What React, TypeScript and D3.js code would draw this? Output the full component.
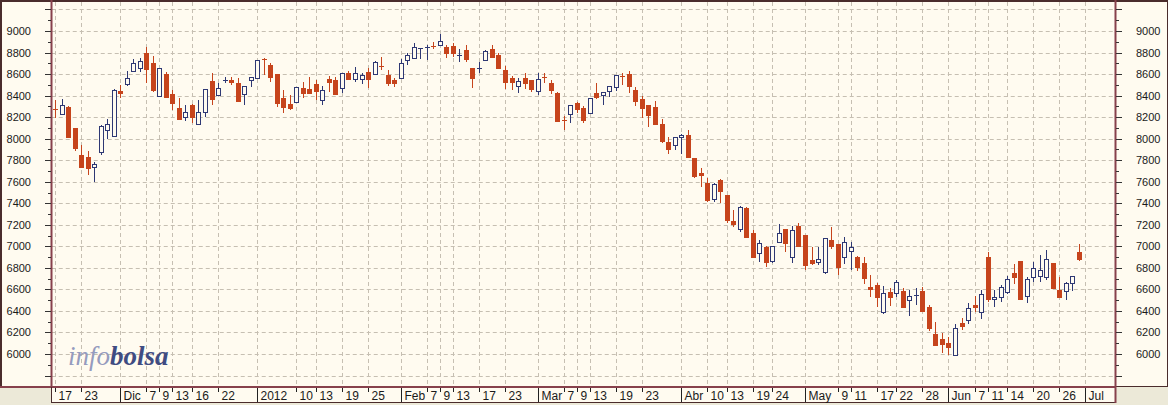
import React from 'react';
import * as d3 from 'd3';

// ---- data ----
const firstDay = '2011-11-17';
const lastDay = '2012-07-06';
const closedDays = ['2011-12-26', '2012-04-06', '2012-04-09', '2012-05-01'];

const opens = [
  8278, 8226, 8297, 8096, 7848, 7833, 7734, 7879, 8080, 8028,
  8443, 8505, 8631, 8659, 8793, 8700, 8396, 8601, 8412, 8282,
  8198, 8313, 8133, 8245, 8536, 8403, 8543, 8545, 8520, 8412,
  8545, 8561, 8737, 8684, 8601, 8375, 8319, 8340, 8468, 8461,
  8505, 8359, 8554, 8545, 8468, 8613, 8551, 8551, 8622, 8598,
  8675, 8591, 8545, 8561, 8731, 8746, 8830, 8839, 8861, 8873,
  8854, 8861, 8775, 8824, 8653, 8651, 8731, 8830, 8777, 8638,
  8561, 8489, 8561, 8545, 8443, 8576, 8520, 8427, 8172, 8226,
  8328, 8282, 8241, 8427, 8403, 8446, 8477, 8585, 8601, 8452,
  8365, 8313, 8291, 8136, 7972, 7941, 8018, 8034, 7818, 7678,
  7591, 7437, 7616, 7477, 7238, 7158, 7359, 7121, 6935, 6997,
  6867, 7040, 7158, 6904, 7189, 7105, 6873, 6858, 6764, 7059,
  7022, 6904, 6960, 6904, 6848, 6619, 6641, 6393, 6579, 6570,
  6588, 6502, 6546, 6585, 6434, 6186, 6137, 6105, 5990, 6291,
  6316, 6455, 6393, 6904, 6508, 6527, 6579, 6755, 6864, 6539,
  6712, 6727, 6718, 6842, 6594, 6588, 6663, 6950,
];
const highs = [
  8359, 8368, 8300, 8100, 7941, 7885, 7786, 8125, 8183, 8461,
  8496, 8631, 8737, 8746, 8854, 8768, 8660, 8620, 8452, 8375,
  8313, 8318, 8359, 8462, 8613, 8514, 8570, 8576, 8561, 8492,
  8573, 8735, 8746, 8706, 8603, 8452, 8406, 8484, 8529, 8576,
  8545, 8489, 8582, 8576, 8610, 8626, 8669, 8613, 8653, 8718,
  8756, 8638, 8561, 8737, 8793, 8886, 8842, 8870, 8900, 8972,
  8870, 8886, 8830, 8870, 8656, 8715, 8824, 8870, 8793, 8675,
  8582, 8561, 8613, 8548, 8613, 8613, 8545, 8430, 8210, 8316,
  8344, 8303, 8378, 8514, 8434, 8492, 8594, 8613, 8631, 8483,
  8396, 8316, 8353, 8180, 8018, 8016, 8040, 8080, 7821, 7725,
  7632, 7585, 7623, 7480, 7337, 7371, 7362, 7152, 7059, 7000,
  7006, 7207, 7161, 7189, 7214, 7108, 6997, 6997, 7077, 7177,
  7025, 7084, 7043, 6910, 6904, 6734, 6662, 6631, 6610, 6687,
  6610, 6594, 6610, 6625, 6455, 6300, 6192, 6155, 6279, 6332,
  6471, 6539, 6594, 6944, 6594, 6641, 6724, 6836, 6867, 6718,
  6858, 6920, 6966, 6845, 6712, 6666, 6727, 7022,
];
const lows = [
  8189, 8220, 8010, 7888, 7735, 7662, 7600, 7848, 7994, 8025,
  8375, 8492, 8628, 8622, 8514, 8436, 8390, 8380, 8266, 8173,
  8167, 8143, 8130, 8204, 8313, 8400, 8520, 8498, 8344, 8313,
  8483, 8558, 8591, 8529, 8297, 8235, 8266, 8336, 8375, 8420,
  8359, 8313, 8437, 8406, 8427, 8548, 8529, 8505, 8468, 8595,
  8638, 8489, 8483, 8558, 8684, 8743, 8737, 8731, 8830, 8861,
  8746, 8762, 8715, 8715, 8468, 8613, 8728, 8756, 8650, 8458,
  8452, 8427, 8458, 8437, 8406, 8520, 8415, 8164, 8080, 8148,
  8235, 8148, 8238, 8365, 8313, 8384, 8443, 8498, 8427, 8303,
  8189, 8111, 8133, 7962, 7858, 7895, 7858, 7824, 7632, 7548,
  7415, 7415, 7399, 7220, 7182, 7136, 7081, 6901, 6857, 6811,
  6848, 7037, 6950, 6842, 7000, 6780, 6830, 6827, 6743, 6972,
  6734, 6836, 6780, 6774, 6650, 6532, 6434, 6372, 6446, 6526,
  6424, 6353, 6455, 6399, 6217, 6074, 6006, 5990, 5987, 6223,
  6279, 6393, 6322, 6486, 6440, 6486, 6557, 6650, 6505, 6477,
  6672, 6672, 6687, 6601, 6524, 6502, 6588, 6864,
];
const closes = [
  8270, 8313, 8018, 7910, 7740, 7725, 7765, 8120, 8133, 8452,
  8421, 8561, 8706, 8721, 8644, 8452, 8654, 8384, 8328, 8180,
  8251, 8204, 8251, 8458, 8368, 8468, 8547, 8526, 8350, 8489,
  8570, 8731, 8731, 8576, 8328, 8291, 8282, 8480, 8427, 8427,
  8446, 8452, 8529, 8415, 8607, 8551, 8613, 8591, 8551, 8715,
  8663, 8514, 8514, 8700, 8777, 8854, 8839, 8854, 8848, 8904,
  8799, 8793, 8779, 8740, 8561, 8655, 8817, 8762, 8653, 8529,
  8529, 8539, 8514, 8461, 8551, 8561, 8452, 8167, 8167, 8313,
  8273, 8173, 8375, 8390, 8431, 8489, 8591, 8576, 8489, 8353,
  8282, 8220, 8136, 7981, 7901, 8013, 8037, 7827, 7653, 7663,
  7430, 7576, 7517, 7245, 7207, 7368, 7084, 6904, 7034, 6857,
  7003, 7121, 7028, 7152, 7003, 6827, 6842, 6880, 7074, 7003,
  6811, 7043, 6997, 6811, 6703, 6607, 6532, 6564, 6526, 6666,
  6434, 6539, 6550, 6402, 6239, 6084, 6093, 6062, 6239, 6260,
  6424, 6440, 6557, 6508, 6527, 6620, 6694, 6718, 6508, 6694,
  6802, 6780, 6880, 6610, 6527, 6663, 6724, 6880,
];

const tickDates = [
  '2011-11-17', '2011-11-23', '2011-12-01', '2011-12-07', '2011-12-09', '2011-12-13', '2011-12-16', '2011-12-22',
  '2012-01-02', '2012-01-10', '2012-01-13', '2012-01-19', '2012-01-25',
  '2012-02-01', '2012-02-07', '2012-02-09', '2012-02-13', '2012-02-17', '2012-02-23',
  '2012-03-01', '2012-03-07', '2012-03-09', '2012-03-13', '2012-03-19', '2012-03-23',
  '2012-04-02', '2012-04-10', '2012-04-13', '2012-04-19', '2012-04-24',
  '2012-05-02', '2012-05-09', '2012-05-11', '2012-05-17', '2012-05-22', '2012-05-28',
  '2012-06-01', '2012-06-07', '2012-06-11', '2012-06-14', '2012-06-20', '2012-06-26',
  '2012-07-02',
];
const tickLabels = [
  '17', '23', 'Dic', '7', '9', '13', '16', '22',
  '2012', '10', '13', '19', '25',
  'Feb', '7', '9', '13', '17', '23',
  'Mar', '7', '9', '13', '19', '23',
  'Abr', '10', '13', '19', '24',
  'May', '9', '11', '17', '22', '28',
  'Jun', '7', '11', '14', '20', '26',
  'Jul',
];
const monthLabels = ['Dic', '2012', 'Feb', 'Mar', 'Abr', 'May', 'Jun', 'Jul'];

const yLabelValues = [6000, 6200, 6400, 6600, 6800, 7000, 7200, 7400, 7600, 7800, 8000, 8200, 8400, 8600, 8800, 9000];

// ---- layout ----
const W = 1168;
const H = 405;
const PL = 51.74;
const PR = 1114.8;
const PT = 2;
const PB = 386;

const BG = '#FFFBF0';
const GRAY = '#ECE9D8';
const RED = '#C6441C';
const NAVY = '#2E3874';
const AXIS = '#87414C';
const FRAME = '#4A2C2C';
const GRID = '#C6BFB2';

const fmt = d3.utcFormat('%Y-%m-%d');
const slots: string[] = d3.utcDay
  .range(new Date(firstDay + 'T00:00:00Z'), d3.utcDay.offset(new Date(lastDay + 'T00:00:00Z'), 1))
  .filter((d) => d.getUTCDay() !== 0 && d.getUTCDay() !== 6)
  .map(fmt)
  .filter((s) => !closedDays.includes(s));

export default function App() {
  const x = d3.scaleBand<string>().domain(slots).range([PL, PR]).padding(0);
  const y = d3.scaleLinear().domain([6000, 9000]).range([354, 31]);
  const cx = (d: string) => Math.round((x(d) as number) + x.bandwidth() / 2);

  const gridYs = d3.range(5800, 9201, 200);
  const minorYs = d3.range(5900, 9200, 200);

  const candles = opens.map((o, i) => ({
    date: slots[i],
    o,
    h: highs[i],
    l: lows[i],
    c: closes[i],
  }));

  const font = 'Liberation Sans, Arial, sans-serif';

  return (
    <div style={{ position: 'absolute', left: 0, top: 0, width: W, height: H }}>
      <svg width={W} height={H} viewBox={`0 0 ${W} ${H}`} style={{ display: 'block' }}>
        <rect x={0} y={0} width={W} height={H} fill={GRAY} />
        {/* main panel */}
        <rect x={0} y={0} width={W} height={387} fill={BG} />
        <rect x={0.5} y={0.5} width={W - 1} height={386} fill="none" stroke={FRAME} strokeWidth={1} />
        <line x1={0} x2={W} y1={1.5} y2={1.5} stroke={FRAME} strokeWidth={1} />
        <line x1={1.5} x2={1.5} y1={0} y2={387} stroke={FRAME} strokeWidth={1} />

        {/* grid */}
        <g>
          {gridYs.map((v) => (
            <line
              key={'gy' + v}
              x1={PL}
              x2={PR}
              y1={Math.round(y(v)) + 0.5}
              y2={Math.round(y(v)) + 0.5}
              stroke={GRID}
              strokeWidth={1}
              strokeDasharray="4,3"
            />
          ))}
          {tickDates.map((d) => (
            <line
              key={'gx' + d}
              x1={cx(d) + 0.5}
              x2={cx(d) + 0.5}
              y1={PT}
              y2={PB}
              stroke={GRID}
              strokeWidth={1}
              strokeDasharray="4,3"
            />
          ))}
        </g>

        {/* candles */}
        <g>
          {candles.map((k) => {
            const up = k.c >= k.o;
            const col = up ? NAVY : RED;
            const xc = cx(k.date);
            const top = Math.round(y(Math.max(k.o, k.c)));
            const bot = Math.round(y(Math.min(k.o, k.c)));
            const hh = Math.max(1, bot - top);
            return (
              <g key={k.date}>
                <line
                  x1={xc + 0.5}
                  x2={xc + 0.5}
                  y1={Math.round(y(k.h))}
                  y2={Math.round(y(k.l))}
                  stroke={col}
                  strokeWidth={1}
                />
                {up ? (
                  hh <= 1 ? (
                    <rect x={xc - 2} y={top} width={5} height={1} fill={col} />
                  ) : (
                    <rect x={xc - 1.5} y={top + 0.5} width={4} height={hh} fill={BG} stroke={col} strokeWidth={1} />
                  )
                ) : (
                  <rect x={xc - 2} y={top} width={5} height={hh + (hh <= 1 ? 0 : 1)} fill={col} />
                )}
              </g>
            );
          })}
        </g>

        {/* watermark */}
        <text x={68} y={365} fontFamily="Liberation Serif, Times New Roman, serif" fontSize={27} fontStyle="italic">
          <tspan fill="#959BBE">info</tspan>
          <tspan fill="#3F4C82" fontWeight="bold">bolsa</tspan>
        </text>

        {/* left axis */}
        <line x1={51.5} x2={51.5} y1={0} y2={387} stroke={AXIS} strokeWidth={2} />
        {gridYs.map((v) => (
          <line key={'lt' + v} x1={45} x2={51} y1={Math.round(y(v)) + 0.5} y2={Math.round(y(v)) + 0.5} stroke="#333" />
        ))}
        {minorYs.map((v) => (
          <line key={'lm' + v} x1={48} x2={51} y1={Math.round(y(v)) + 0.5} y2={Math.round(y(v)) + 0.5} stroke="#333" />
        ))}
        {yLabelValues.map((v) => (
          <text key={'ll' + v} x={31} y={y(v) + 4} textAnchor="end" fontFamily={font} fontSize={11} fill="#1a1a1a">
            {v}
          </text>
        ))}

        {/* right axis */}
        <line x1={1115.5} x2={1115.5} y1={0} y2={387} stroke={AXIS} strokeWidth={2} />
        {gridYs.map((v) => (
          <line key={'rt' + v} x1={1116} x2={1122} y1={Math.round(y(v)) + 0.5} y2={Math.round(y(v)) + 0.5} stroke="#333" />
        ))}
        {minorYs.map((v) => (
          <line key={'rm' + v} x1={1116} x2={1119} y1={Math.round(y(v)) + 0.5} y2={Math.round(y(v)) + 0.5} stroke="#333" />
        ))}
        {yLabelValues.map((v) => (
          <text key={'rl' + v} x={1136} y={y(v) + 4} textAnchor="start" fontFamily={font} fontSize={11} fill="#1a1a1a">
            {v}
          </text>
        ))}

        {/* x axis strip */}
        <rect x={51} y={387} width={1065} height={15} fill={BG} />
        <line x1={51} x2={1116} y1={402.5} y2={402.5} stroke={FRAME} strokeWidth={1} />
        <line x1={0} x2={1116} y1={387} y2={387} stroke={AXIS} strokeWidth={2} />
        <line x1={51.5} x2={51.5} y1={387} y2={403} stroke={FRAME} strokeWidth={1} />
        <line x1={1115.5} x2={1115.5} y1={387} y2={403} stroke={AXIS} strokeWidth={2} />
        {tickDates.map((d, i) => {
          const major = monthLabels.includes(tickLabels[i]);
          const xx = cx(d) + 0.5;
          return (
            <g key={'xt' + d}>
              <line x1={xx} x2={xx} y1={388} y2={major ? 402 : 392} stroke="#222" strokeWidth={1} />
              <text x={xx + 3} y={400} fontFamily={font} fontSize={12} fill="#1a1a1a">
                {tickLabels[i]}
              </text>
            </g>
          );
        })}
      </svg>
    </div>
  );
}
